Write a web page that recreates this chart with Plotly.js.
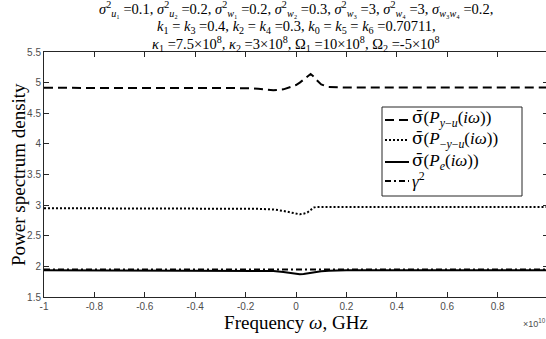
<!DOCTYPE html>
<html>
<head>
<meta charset="utf-8">
<script src="https://cdn.plot.ly/plotly-3.0.1.min.js"></script>
<style>
html,body{margin:0;padding:0;overflow:hidden;background:#fff;}
#chart{width:550px;height:339px;}
</style>
</head>
<body>
<div id="chart"></div>
<script>
// Frequency (×10^10)
const freq = [-1, -0.8, -0.6, -0.4, -0.2, -0.15, -0.1, -0.09, -0.05, -0.02, 0, 0.015, 0.03, 0.045, 0.058, 0.07, 0.08, 0.1, 0.13, 0.2, 0.4, 0.6, 0.8, 1];
// sigma-bar(P_{y-u}(i omega))
const pYU = [4.915, 4.915, 4.915, 4.915, 4.91, 4.9, 4.88, 4.875, 4.89, 4.93, 4.96, 5.0, 5.05, 5.1, 5.14, 5.1, 5.05, 4.97, 4.93, 4.92, 4.92, 4.92, 4.92, 4.92];
// sigma-bar(P_{-y-u}(i omega))
const pNYU = [2.95, 2.95, 2.95, 2.95, 2.945, 2.94, 2.93, 2.93, 2.905, 2.88, 2.865, 2.85, 2.86, 2.88, 2.92, 2.96, 2.97, 2.97, 2.97, 2.97, 2.97, 2.97, 2.97, 2.97];
// sigma-bar(P_e(i omega))
const pE = [1.935, 1.935, 1.935, 1.935, 1.935, 1.933, 1.93, 1.925, 1.91, 1.89, 1.88, 1.87, 1.875, 1.885, 1.895, 1.905, 1.91, 1.92, 1.93, 1.935, 1.935, 1.935, 1.935, 1.935];
// gamma^2
const gammaX = [-1, 1];
const gammaY = [1.95, 1.95];

const xTicks = [-1, -0.8, -0.6, -0.4, -0.2, 0, 0.2, 0.4, 0.6, 0.8, 1];
const xTickText = ['-1', '-0.8', '-0.6', '-0.4', '-0.2', '0', '0.2', '0.4', '0.6', '0.8', '1'];
const yTicks = [1.5, 2, 2.5, 3, 3.5, 4, 4.5, 5, 5.5];
const yTickText = ['1.5', '2', '2.5', '3', '3.5', '4', '4.5', '5', '5.5'];

const sbar = '<span style="font-family:DejaVu Serif">σ̄</span>';
const names = [
  sbar + '(<i>P</i><sub><i>y</i>−<i>u</i></sub>(<i>iω</i>))',
  sbar + '(<i>P</i><sub>−<i>y</i>−<i>u</i></sub>(<i>iω</i>))',
  sbar + '(<i>P</i><sub><i>e</i></sub>(<i>iω</i>))',
  '<i>γ</i><sup>2</sup>'
];

const titleLines = [
  '<i>σ</i><sup>2</sup><sub><i>u</i>₁</sub> =0.1, <i>σ</i><sup>2</sup><sub><i>u</i>₂</sub> =0.2, ' +
  '<i>σ</i><sup>2</sup><sub><i>w</i>₁</sub> =0.2, <i>σ</i><sup>2</sup><sub><i>w</i>₂</sub> =0.3, ' +
  '<i>σ</i><sup>2</sup><sub><i>w</i>₃</sub> =3, <i>σ</i><sup>2</sup><sub><i>w</i>₄</sub> =3, ' +
  '<i>σ</i><sub><i>w</i>₃<i>w</i>₄</sub> =0.2,',
  '<i>k</i><sub>1</sub> = <i>k</i><sub>3</sub> =0.4, <i>k</i><sub>2</sub> = <i>k</i><sub>4</sub> =0.3, ' +
  '<i>k</i><sub>0</sub> = <i>k</i><sub>5</sub> = <i>k</i><sub>6</sub> =0.70711,',
  '<i>κ</i><sub>1</sub> =7.5×10<sup>8</sup>, <i>κ</i><sub>2</sub> =3×10<sup>8</sup>, ' +
  'Ω<sub>1</sub> =10×10<sup>8</sup>, Ω<sub>2</sub> =-5×10<sup>8</sup>'
];

const serif = 'Liberation Serif, DejaVu Serif, serif';
const sans = 'Liberation Sans, Arial, sans-serif';
const ink = '#000000';
const dashes = ['9px,5px', '2px,2px', 'solid', '6px,3px,2px,3px'];

const traces = [
  {x: freq, y: pYU, name: names[0], mode: 'lines', line: {color: ink, width: 2, dash: dashes[0]}},
  {x: freq, y: pNYU, name: names[1], mode: 'lines', line: {color: ink, width: 2, dash: dashes[1]}},
  {x: freq, y: pE, name: names[2], mode: 'lines', line: {color: ink, width: 2, dash: dashes[2]}},
  {x: gammaX, y: gammaY, name: names[3], mode: 'lines', line: {color: ink, width: 2, dash: dashes[3]}}
];

const axisCommon = {
  showline: true, linecolor: '#262626', linewidth: 1, mirror: 'ticks',
  ticks: 'inside', ticklen: 5, tickcolor: '#262626', tickwidth: 1,
  showgrid: false, zeroline: false,
  tickfont: {family: sans, size: 10, color: '#4d4d4d'}
};

// plot area: x 44..548 px, y 52..297 px
const pxToPaper = px => (px - 44) / 504;
const pyToPaper = py => (297 - py) / 245;
const titleY = [9, 27, 44];

const annotations = titleLines.map((t, i) => ({
  text: t, xref: 'paper', yref: 'paper', x: 0.5, y: pyToPaper(titleY[i]),
  xanchor: 'center', yanchor: 'middle', showarrow: false,
  font: {family: serif, size: 14.5, color: ink}
}));
annotations.push({
  text: '×10<sup>10</sup>', xref: 'paper', yref: 'paper', x: 1.0, y: pyToPaper(315),
  xanchor: 'right', yanchor: 'top', showarrow: false,
  font: {family: sans, size: 9, color: '#4d4d4d'}
});
annotations.push({
  text: 'Power spectrum density', xref: 'paper', yref: 'paper',
  x: pxToPaper(18), y: pyToPaper(175), xanchor: 'center', yanchor: 'middle',
  textangle: -90, showarrow: false, font: {family: serif, size: 19, color: ink}
});

// legend (box, samples, labels)
const legBox = {x0: 382, x1: 522, y0: 107, y1: 196};
const rowY = [119, 139, 161, 180];
const shapes = [{
  type: 'rect', xref: 'paper', yref: 'paper',
  x0: pxToPaper(legBox.x0), x1: pxToPaper(legBox.x1),
  y0: pyToPaper(legBox.y1), y1: pyToPaper(legBox.y0),
  line: {color: '#262626', width: 1}, fillcolor: '#fff', layer: 'above'
}];
rowY.forEach((ry, i) => {
  shapes.push({
    type: 'line', xref: 'paper', yref: 'paper',
    x0: pxToPaper(385), x1: pxToPaper(409), y0: pyToPaper(ry + 1), y1: pyToPaper(ry + 1),
    line: {color: ink, width: 2, dash: dashes[i]}, layer: 'above'
  });
  annotations.push({
    text: names[i], xref: 'paper', yref: 'paper', x: pxToPaper(410), y: pyToPaper(ry),
    xanchor: 'left', yanchor: 'middle', showarrow: false,
    font: {family: serif, size: 17, color: ink}
  });
});

const layout = {
  width: 550, height: 339,
  margin: {l: 44, r: 2, t: 52, b: 42},
  paper_bgcolor: '#fff', plot_bgcolor: '#fff',
  showlegend: false,
  xaxis: Object.assign({}, axisCommon, {
    range: [-1, 1], tickvals: xTicks, ticktext: xTickText,
    title: {text: 'Frequency <i>ω</i>, GHz', font: {family: serif, size: 19, color: ink}, standoff: 0}
  }),
  yaxis: Object.assign({}, axisCommon, {
    range: [1.5, 5.5], tickvals: yTicks, ticktext: yTickText
  }),
  shapes: shapes,
  annotations: annotations
};

Plotly.newPlot('chart', traces, layout, {displayModeBar: false, staticPlot: true});
</script>
</body>
</html>
